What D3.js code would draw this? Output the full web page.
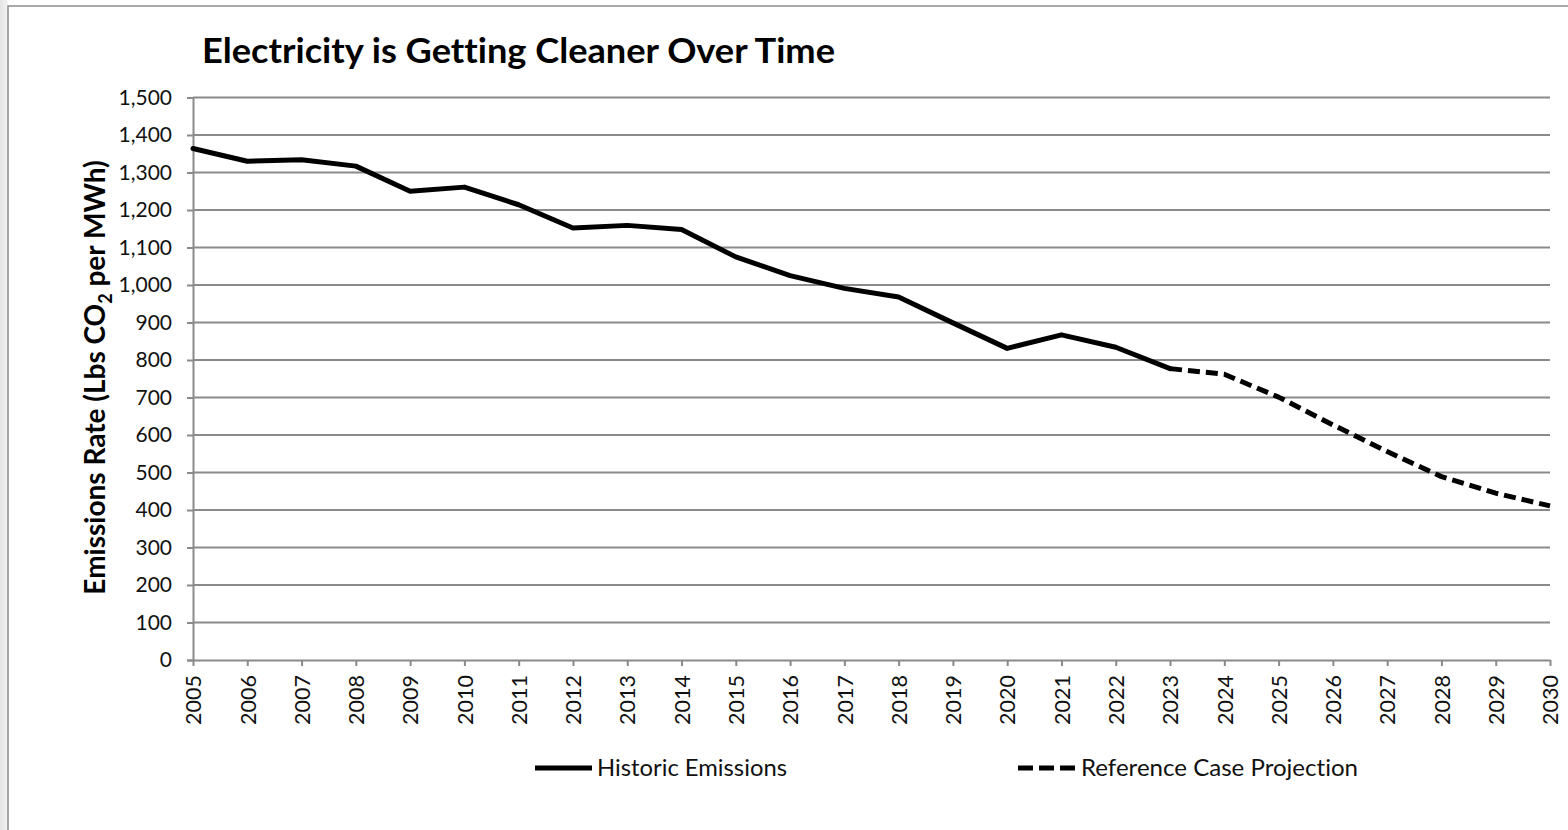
<!DOCTYPE html>
<html>
<head>
<meta charset="utf-8">
<script src="https://cdn.jsdelivr.net/npm/d3@7"></script>
<style>
  html, body { margin: 0; padding: 0; background: #fff; }
  svg { display: block; font-family: Lato, "Open Sans", sans-serif; font-variant-ligatures: none; }
</style>
</head>
<body>
<svg id="chart" width="1568" height="830"></svg>
<script>
// Emissions rate, lbs CO2 per MWh
const years = d3.range(2005, 2031);
const historicYears = [2005, 2006, 2007, 2008, 2009, 2010, 2011, 2012, 2013, 2014,
                       2015, 2016, 2017, 2018, 2019, 2020, 2021, 2022, 2023];
const historicValues = [1364, 1330, 1334, 1317, 1250, 1261, 1214, 1152, 1159, 1148,
                        1075, 1025, 991, 968, 899, 831, 867, 834, 777];
const projectionYears = [2023, 2024, 2025, 2026, 2027, 2028, 2029, 2030];
const projectionValues = [777, 762, 701, 627, 556, 489, 445, 411];
const yTicks = d3.range(0, 1501, 100);
const legendLabels = ["Historic Emissions", "Reference Case Projection"];

const svg = d3.select("#chart");
const W = 1568, H = 830;

// frame: soft grey margin on the left, thin border round the chart area
const defs = svg.append("defs");
const grad = defs.append("linearGradient").attr("id", "edge").attr("x1", 0).attr("x2", 1);
grad.append("stop").attr("offset", 0).attr("stop-color", "#e4e4e4");
grad.append("stop").attr("offset", 1).attr("stop-color", "#f4f4f4");
svg.append("rect").attr("x", 0).attr("y", 0).attr("width", 8).attr("height", H).attr("fill", "url(#edge)");
svg.append("rect").attr("x", 8).attr("y", 6).attr("width", W).attr("height", H)
  .attr("fill", "#fff").attr("stroke", "#8c8c8c").attr("stroke-width", 1.5);

const plot = { left: 193, right: 1550, top: 97.5, bottom: 660 };

const x = d3.scaleLinear().domain([2005, 2030]).range([plot.left, plot.right]);
const y = d3.scaleLinear().domain([0, 1500]).range([plot.bottom, plot.top]);

// horizontal gridlines
svg.append("g")
  .selectAll("line")
  .data(yTicks.filter(d => d > 0))
  .join("line")
  .attr("x1", plot.left).attr("x2", plot.right)
  .attr("y1", d => y(d)).attr("y2", d => y(d))
  .attr("stroke", "#8a8a8a").attr("stroke-width", 2);

// y axis
const yAxis = svg.append("g")
  .attr("transform", `translate(${plot.left},0)`)
  .call(d3.axisLeft(y).tickValues(yTicks).tickFormat(d3.format(",")).tickSize(6).tickPadding(15));
yAxis.select(".domain").attr("stroke", "#8a8a8a").attr("stroke-width", 2);
yAxis.selectAll(".tick line").attr("stroke", "#8a8a8a").attr("stroke-width", 2);
yAxis.selectAll(".tick text")
  .attr("fill", "#111").style("font-size", "21px").style("font-family", "Lato, sans-serif");

// x axis
const xAxis = svg.append("g")
  .attr("transform", `translate(0,${plot.bottom})`)
  .call(d3.axisBottom(x).tickValues(years).tickFormat(d3.format("d")).tickSize(6).tickSizeOuter(0));
xAxis.select(".domain").attr("stroke", "#8a8a8a").attr("stroke-width", 2);
xAxis.selectAll(".tick line").attr("stroke", "#8a8a8a").attr("stroke-width", 2);
xAxis.selectAll(".tick text")
  .attr("fill", "#111").style("font-size", "21.5px").style("font-family", "Lato, sans-serif")
  .attr("transform", "rotate(-90)")
  .attr("text-anchor", "end")
  .attr("x", -15).attr("y", 0).attr("dy", "0.36em");

// series
const line = d3.line().x(d => x(d[0])).y(d => y(d[1]));
const historic = d3.zip(historicYears, historicValues);
const projection = d3.zip(projectionYears, projectionValues);

svg.append("path").datum(projection)
  .attr("d", line).attr("fill", "none")
  .attr("stroke", "#000").attr("stroke-width", 5)
  .attr("stroke-dasharray", "12,6").attr("stroke-linejoin", "round");

svg.append("path").datum(historic)
  .attr("d", line).attr("fill", "none")
  .attr("stroke", "#000").attr("stroke-width", 5)
  .attr("stroke-linejoin", "round").attr("stroke-linecap", "round");

// title
svg.append("text")
  .attr("x", 202).attr("y", 63)
  .style("font-size", "35px").style("font-weight", "700")
  .attr("fill", "#000")
  .attr("textLength", 633).attr("lengthAdjust", "spacingAndGlyphs")
  .text("Electricity is Getting Cleaner Over Time");

// y axis title with subscript
const yt = svg.append("text")
  .attr("transform", `translate(105,${(160 + 595) / 2}) rotate(-90)`)
  .attr("text-anchor", "middle")
  .style("font-size", "28px").style("font-weight", "700")
  .attr("fill", "#000");
yt.append("tspan").text("Emissions Rate (Lbs CO");
yt.append("tspan").text("2").attr("dy", 7).style("font-size", "18px");
yt.append("tspan").text(" per MWh)").attr("dy", -7);

// legend
const legend = svg.append("g");
const legendItems = [
  { x1: 535, x2: 592, tx: 597, dash: null, label: legendLabels[0], len: 190 },
  { x1: 1018, x2: 1075, tx: 1081, dash: "15,6", label: legendLabels[1], len: 277 }
];
legendItems.forEach(it => {
  legend.append("line")
    .attr("x1", it.x1).attr("x2", it.x2).attr("y1", 768).attr("y2", 768)
    .attr("stroke", "#000").attr("stroke-width", 5)
    .attr("stroke-dasharray", it.dash);
  legend.append("text")
    .attr("x", it.tx).attr("y", 776)
    .style("font-size", "23px")
    .attr("fill", "#111")
    .attr("textLength", it.len).attr("lengthAdjust", "spacingAndGlyphs")
    .text(it.label);
});
</script>
</body>
</html>
